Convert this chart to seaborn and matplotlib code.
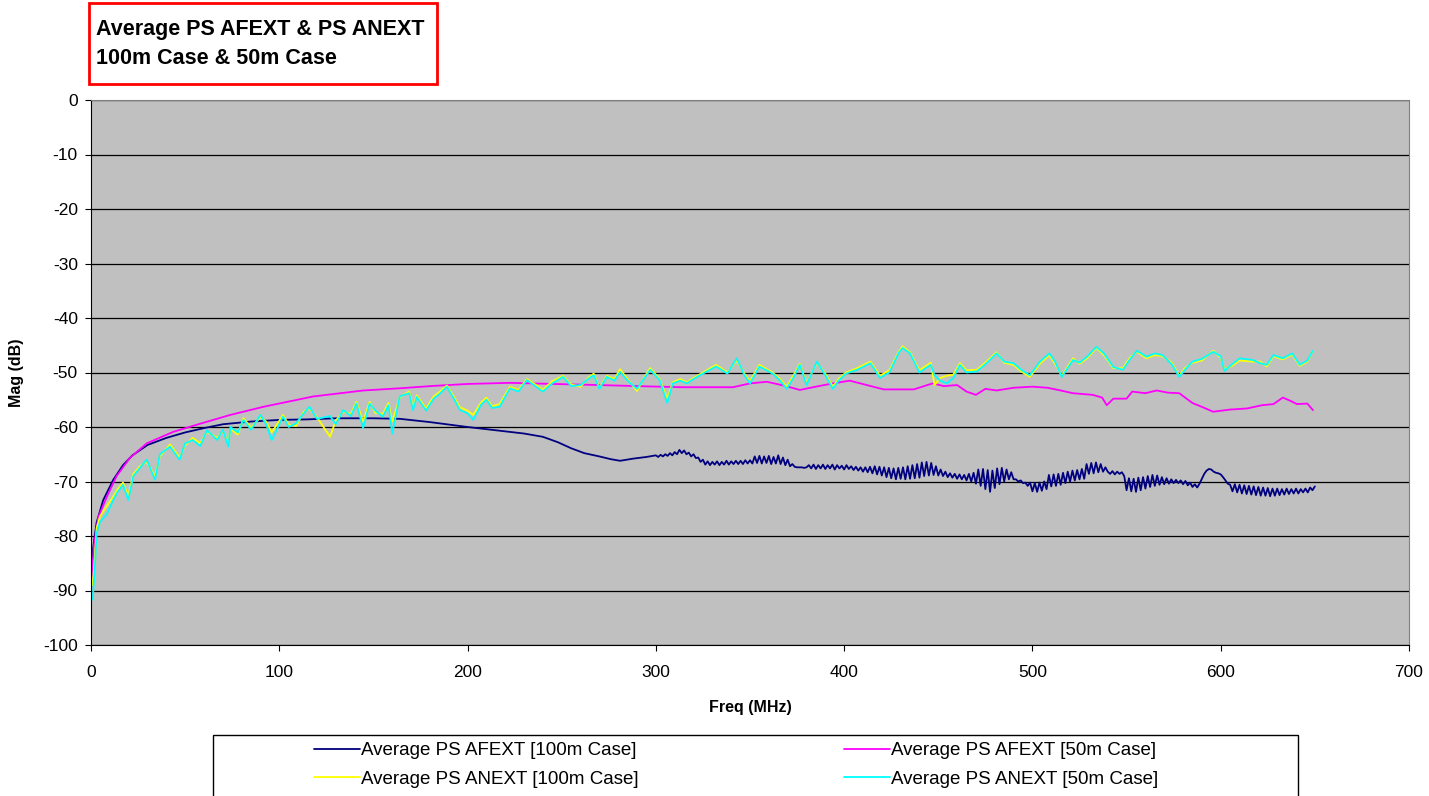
import numpy as np
import pandas as pd
import matplotlib
matplotlib.use("Agg")
import matplotlib.pyplot as plt
import seaborn as sns
from matplotlib.patches import Rectangle

# ---- data (freq in MHz, magnitude in dB) ----
afext100_freq_lo = [0.3, 1.2, 3, 6.5, 11.8, 17, 22, 30, 40, 50, 60, 70, 85, 100, 115, 130,
                    150, 164, 180, 200, 215, 230, 240, 248, 255, 262, 270, 276, 281, 288, 295]
afext100_mag_lo = [-85.5, -82, -77.5, -73.4, -69.7, -67, -65.2, -63.3, -62, -61, -60.2, -59.5, -59,
                   -58.7, -58.6, -58.4, -58.4, -58.5, -59.1, -60, -60.6, -61.2, -61.8, -62.8, -63.9,
                   -64.8, -65.4, -65.9, -66.2, -65.8, -65.5]
# 300..650 MHz, sampled every 1.25 MHz (ripple section)
afext100_mag_hi = [
    -65.2, -65.5, -65.1, -65.4, -65.0, -65.3, -64.8, -65.2, -64.6, -65.0, -64.2, -64.8, -64.3,
    -65.0, -64.7, -65.4, -65.0, -65.7, -65.6,
    -66.4, -66.0, -66.9, -66.3, -67.0, -66.4, -66.9, -66.3, -67.0, -66.4, -66.9, -66.2, -66.9,
    -66.3, -66.8, -66.2, -66.8, -66.2, -66.8, -66.1, -66.7, -66.1, -66.7,
    -65.4, -66.6, -65.3, -66.7, -65.4, -66.6, -65.3, -66.8, -65.5, -66.7, -65.2, -66.8, -65.6,
    -67.0, -66.0, -67.2, -66.8,
    -67.3, -67.4, -67.4, -67.4, -67.5, -67.4,
    -67.0, -67.6, -66.9, -67.7, -67.0, -67.6, -66.9, -67.7, -67.0, -67.6, -66.9, -67.8, -67.0,
    -67.6, -67.1, -67.8, -67.0, -67.7, -67.2, -67.9, -67.3, -68.0,
    -67.4, -68.2, -67.4, -68.3, -67.3, -68.5, -67.2, -68.7, -67.3, -68.9, -67.4, -69.2, -67.5,
    -69.4, -67.6, -69.6, -67.5, -69.5,
    -67.4, -69.6, -67.2, -69.5, -67.0, -69.4, -66.8, -69.3, -66.5, -69.0, -66.4, -68.9, -66.6,
    -68.8, -67.2, -68.9, -67.8, -69.0, -68.2, -69.2,
    -68.5, -69.3, -68.6, -69.5, -68.7, -69.6, -68.8, -69.8, -68.6, -70.0, -68.4,
    -70.4, -67.8, -70.8, -67.7, -71.4, -67.9, -71.9, -68.0, -71.2, -67.6, -70.5, -67.5, -70.0,
    -67.8, -69.6, -68.3, -69.6,
    -69.6, -70.0, -69.8, -70.3, -70.2, -70.8,
    -70.2, -71.8, -70.3, -71.9, -70.2, -71.7, -70.0, -71.4,
    -68.8, -70.9, -68.7, -70.8, -68.6, -70.6, -68.4, -70.3, -68.2, -70.0, -68.0, -69.8, -67.9,
    -69.6, -67.7, -69.5,
    -66.8, -68.6, -66.6, -68.5, -66.5, -68.3, -66.8, -68.2, -67.4,
    -68.2, -68.6, -68.1, -68.7, -68.2, -68.6, -68.3, -69.0,
    -71.6, -69.4, -71.8, -69.5, -71.9, -69.3, -71.6, -69.2, -71.3, -69.0, -71.0, -68.8, -70.8,
    -68.9, -70.6, -69.2, -70.5, -69.4, -70.4, -69.6, -70.3,
    -69.7, -70.3, -69.8, -70.5, -69.9, -70.7, -70.2, -71.0, -70.5, -71.1, -70.4, -69.5, -68.6,
    -68.0, -67.7, -67.8, -68.2, -68.4, -68.5, -68.7, -69.2, -69.8, -70.4,
    -70.6, -71.8, -70.5, -72.0, -70.6, -72.2, -70.7, -72.3, -70.8, -72.4, -70.9, -72.5, -71.0,
    -72.6, -71.1, -72.6, -71.2, -72.7, -71.3, -72.6, -71.3, -72.5, -71.4, -72.4, -71.3, -72.3,
    -71.4, -72.2, -71.3, -72.2, -71.4, -72.0, -71.3, -72.0, -71.1, -71.6, -70.9]
afext100_freq_hi = list(np.linspace(300, 650, len(afext100_mag_hi)))

afext50_freq = [0.4, 1.5, 3.9, 8.4, 13.6, 20.6, 29.6, 43.6, 56, 73.8, 91.5, 118, 144.6, 164, 180,
                200, 222.5, 245, 270, 290, 314, 341, 350, 359, 368, 376.5, 385, 394, 403, 412, 421,
                437, 447, 453, 460, 465, 470, 475, 481, 490, 500, 508, 515, 521.5, 532, 537, 539.5,
                543, 550, 553, 560, 566, 572, 578, 585, 590, 596, 605, 614, 622, 628, 633, 637,
                640.5, 646, 649]
afext50_mag = [-87.5, -82, -76.5, -72.8, -69, -65.7, -63, -60.9, -59.6, -57.8, -56.3, -54.4, -53.3,
               -52.9, -52.5, -52.1, -51.9, -52.1, -52.3, -52.5, -52.7, -52.7, -52.0, -51.7, -52.4,
               -53.2, -52.6, -52.0, -51.5, -52.3, -53.1, -53.1, -52.0, -52.5, -52.3, -53.5, -54.1,
               -53.0, -53.3, -52.8, -52.6, -52.8, -53.3, -53.8, -54.1, -54.6, -56.0, -54.8, -54.8,
               -53.5, -53.8, -53.3, -53.7, -53.8, -55.6, -56.3, -57.2, -56.8, -56.6, -56.0, -55.8,
               -54.6, -55.2, -55.8, -55.7, -56.9]

anext_freq = [0.9, 2, 3, 4.8, 8.4, 11.8, 14, 17, 19.8, 22.5, 26, 29.6, 34, 36.6, 42, 47, 50, 54,
              58, 61.6, 67, 70, 73, 74, 78, 81, 85, 90, 93, 96, 102, 105, 109, 113, 116, 120, 127,
              130, 134, 138, 141, 144.5, 148, 151, 155, 158, 160, 164, 169, 171, 173, 178, 182,
              185, 189, 193, 196, 200, 203, 207, 210, 213, 217, 222.5, 227, 231.5, 236, 240, 245,
              250.7, 255, 260, 264, 267, 270, 274, 278, 281, 285, 290, 294, 297, 302, 306, 309,
              313, 316.5, 320, 325, 332, 338, 343, 347, 350, 355, 362, 366, 369.5, 373, 376.5,
              380, 385.5, 390, 394, 397, 401, 407, 414, 419, 424, 429, 431, 435, 440, 446, 448,
              451, 454.5, 458, 461.5, 465, 470.5, 475, 481, 485, 490, 494, 498.6, 504, 509, 512,
              515.6, 521.6, 525, 529, 534, 538, 543, 548, 552, 555.5, 560.6, 565, 569, 574, 578,
              581, 585, 590, 596, 600, 602, 606, 610, 617, 621, 624.5, 628, 633, 638, 642, 646, 649]
anext50_mag = [-91.7, -86, -79.5, -77.4, -76, -73.4, -72, -70.6, -73.4, -69, -67.5, -66, -69.7,
               -65, -63.6, -66, -63, -62.4, -63.5, -60.6, -62.4, -60.5, -63.6, -60, -61, -58.7,
               -60.5, -57.8, -59.5, -62.4, -58.1, -60, -59.3, -57.5, -56.3, -58.5, -58, -59.5,
               -56.9, -58, -55.7, -60.2, -55.7, -57, -58.1, -56, -61.2, -54.4, -53.8, -56.9, -54.5,
               -57, -54.8, -54, -52.6, -55, -56.9, -57.5, -58.7, -56, -55, -56.5, -56.3, -52.9,
               -53.5, -51.4, -52.5, -53.5, -52, -50.8, -52.5, -52.3, -51.2, -50.5, -53, -50.8,
               -51.5, -49.9, -51.5, -53, -51, -49.5, -51.4, -55.6, -52, -51.5, -52, -51.2, -50.2,
               -48.9, -50.2, -47.4, -50.5, -52, -48.9, -50.2, -51.5, -53, -51, -48.6, -52.3, -48,
               -50.5, -53, -51.5, -50.2, -49.5, -48.3, -51, -50, -46.4, -45.5, -46.5, -50, -48.6,
               -50.5, -51.5, -52, -51, -48.6, -50, -49.8, -48.5, -46.5, -48, -48.3, -49.5, -50.5,
               -48, -46.5, -48, -50.8, -47.7, -48.2, -47.1, -45.3, -46.5, -49, -49.5, -47.5, -46,
               -47.1, -46.5, -46.8, -48.5, -50.8, -49.5, -48, -47.5, -46.2, -47, -49.7, -48.5,
               -47.4, -47.7, -48.3, -48.6, -46.8, -47.4, -46.5, -48.6, -47.8, -46]
anext100_mag = [-89.0, -84, -78.5, -76.4, -74.5, -72.8, -71.5, -70.2, -72.6, -68.6, -67.2, -66.4,
                -69.0, -65.4, -63.2, -65.6, -63.4, -62.0, -63.0, -60.9, -62.0, -60.8, -63.0, -60.3,
                -61.4, -58.4, -60.1, -58.2, -59.0, -61.0, -57.8, -59.6, -59.8, -57.2, -56.6, -58.2,
                -61.8, -58.8, -57.2, -57.6, -55.4, -59.0, -55.4, -57.4, -57.6, -55.6, -59.0, -54.6,
                -53.5, -56.4, -54.2, -56.6, -54.4, -53.6, -52.4, -54.6, -56.4, -57.0, -57.8, -55.6,
                -54.6, -56.2, -55.8, -52.6, -53.2, -51.2, -52.2, -53.2, -51.6, -50.6, -52.2, -52.6,
                -51.0, -50.2, -52.8, -50.6, -51.2, -49.4, -51.2, -53.4, -50.8, -49.2, -51.2, -54.8,
                -51.8, -51.2, -51.8, -51.0, -50.0, -48.6, -50.0, -47.8, -50.2, -51.6, -48.6, -50.0,
                -51.2, -52.6, -50.6, -48.4, -52.0, -48.2, -50.2, -52.6, -51.2, -50.0, -49.2, -48.0,
                -50.6, -49.6, -46.2, -45.2, -46.3, -49.6, -48.2, -52.3, -51.0, -50.6, -50.4, -48.3,
                -49.6, -49.5, -48.2, -46.3, -48.2, -48.6, -49.8, -50.8, -48.4, -46.8, -48.4, -50.6,
                -47.4, -48.4, -47.4, -45.5, -46.8, -49.2, -49.2, -47.2, -46.2, -47.4, -46.8, -47.0,
                -48.2, -50.6, -49.2, -48.2, -47.8, -46.0, -47.3, -49.4, -48.8, -47.8, -48.0, -48.0,
                -48.9, -47.0, -47.6, -46.7, -48.8, -48.0, -46.0]

labels = ["Average PS AFEXT [100m Case]", "Average PS AFEXT [50m Case]",
          "Average PS ANEXT [100m Case]", "Average PS ANEXT [50m Case]"]
colors = ["#000080", "#ff00ff", "#ffff00", "#00ffff"]

# long-form frames for seaborn
frames = [
    pd.DataFrame({"freq": afext100_freq_lo + afext100_freq_hi,
                  "mag": afext100_mag_lo + afext100_mag_hi, "series": labels[0]}),
    pd.DataFrame({"freq": afext50_freq, "mag": afext50_mag, "series": labels[1]}),
    pd.DataFrame({"freq": anext_freq, "mag": anext100_mag, "series": labels[2]}),
    pd.DataFrame({"freq": anext_freq, "mag": anext50_mag, "series": labels[3]}),
]

sns.set_style("white")
plt.rcParams["font.family"] = ["Liberation Sans", "DejaVu Sans"]
plt.rcParams["axes.unicode_minus"] = False
plt.rcParams["text.color"] = "black"
plt.rcParams["axes.labelcolor"] = "black"
plt.rcParams["xtick.color"] = "black"
plt.rcParams["ytick.color"] = "black"

fig = plt.figure(figsize=(14.29, 7.96), dpi=100)
ax = fig.add_axes([91 / 1429, 1 - 645 / 796, (1409 - 91) / 1429, (645 - 100) / 796])
ax.set_facecolor("#c0c0c0")

for df, lab, col in zip(frames, labels, colors):
    sns.lineplot(data=df, x="freq", y="mag", ax=ax, color=col, label=lab,
                 linewidth=1.3, estimator=None, sort=False)

ax.set_xlim(0, 700)
ax.set_ylim(-100, 0)
ax.set_xticks(range(0, 701, 100))
ax.set_yticks(range(-100, 1, 10))
ax.yaxis.grid(True, color="black", linewidth=0.9)
ax.set_axisbelow(True)
ax.tick_params(axis="both", labelsize=12.5, length=4.5, width=0.8, direction="out",
               bottom=True, left=True)
ax.tick_params(axis="x", pad=10)
ax.tick_params(axis="y", pad=5)
for s in ["top", "right"]:
    ax.spines[s].set_color("#808080")
for s in ["left", "bottom"]:
    ax.spines[s].set_color("black")

ax.set_xlabel("Freq (MHz)", fontsize=11.5, fontweight="bold", labelpad=14)
ax.set_ylabel("Mag (dB)", fontsize=11.5, fontweight="bold", labelpad=14)

# legend below, inside a black box (row order like the reference)
handles, labs = ax.get_legend_handles_labels()
ax.get_legend().remove()
order = [0, 2, 1, 3]
fig.patches.append(Rectangle((213 / 1429, -0.02), (1298 - 213) / 1429, (796 - 735) / 796 + 0.02,
                             transform=fig.transFigure, fill=False, edgecolor="black",
                             linewidth=1))
fig.legend([handles[i] for i in order], [labs[i] for i in order], ncol=2, frameon=False,
           loc="upper left", bbox_to_anchor=(314 / 1429, 1 - 742 / 796), fontsize=13.5,
           handlelength=2.45, handletextpad=0.05, columnspacing=10.95, labelspacing=0.62,
           borderpad=0, borderaxespad=0)

# title box
fig.patches.append(Rectangle((89 / 1429, 1 - 84 / 796), (437 - 89) / 1429, (84 - 3) / 796,
                             transform=fig.transFigure, fill=False, edgecolor="red",
                             linewidth=2))
fig.text(96 / 1429, 1 - 30 / 796, "Average PS AFEXT & PS ANEXT", fontsize=15.5,
         fontweight="bold", va="center", ha="left")
fig.text(96 / 1429, 1 - 59 / 796, "100m Case & 50m Case", fontsize=15.5,
         fontweight="bold", va="center", ha="left")

fig.savefig("out.png", dpi=100)
